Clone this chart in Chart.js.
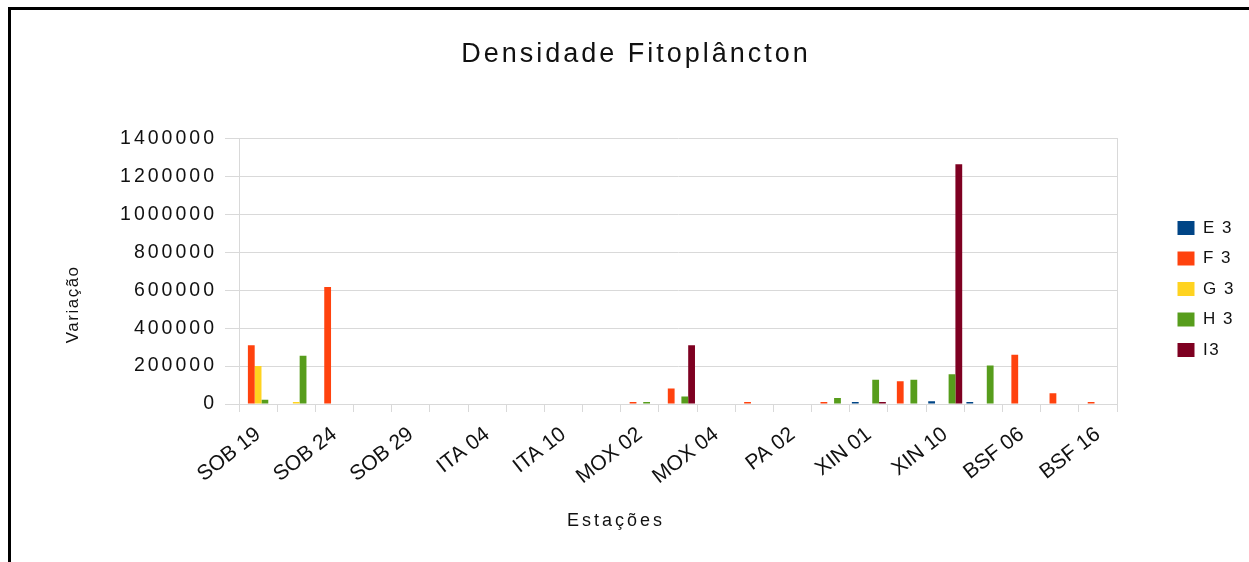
<!DOCTYPE html>
<html>
<head>
<meta charset="utf-8">
<script src="https://cdn.jsdelivr.net/npm/chart.js@4"></script>
<style>
  html, body { margin: 0; padding: 0; background: #fff; overflow: hidden; }
  #frame { position: absolute; left: 8px; top: 7px; right: 0; bottom: -10px;
           border-top: 3px solid #000; border-left: 3px solid #000; }
  #wrap { position: absolute; left: 0; top: 0; width: 1249px; height: 562px; }
</style>
</head>
<body>
<div id="frame"></div>
<div id="wrap"><canvas id="chart"></canvas></div>
<script>
// estações (só as pares aparecem no eixo)
const stations = ['SOB 19', 'SOB 20', 'SOB 24', 'SOB 27', 'SOB 29', 'ITA 01', 'ITA 04', 'ITA 07',
  'ITA 10', 'MOX 01', 'MOX 02', 'MOX 03', 'MOX 04', 'PA 01', 'PA 02', 'PA 03',
  'XIN 01', 'XIN 05', 'XIN 10', 'BSF 01', 'BSF 06', 'BSF 11', 'BSF 16'];

const e3 = [0, 0, 0, 0, 0, 0, 0, 0, 0, 0, 0, 0, 0, 0, 0, 0, 10000, 0, 15000, 10000, 0, 0, 0];
const f3 = [310000, 0, 618000, 0, 0, 0, 0, 0, 0, 0, 10000, 82000, 0, 10000, 0, 10000, 0, 120000, 0, 0, 260000, 57000, 10000];
const g3 = [200000, 10000, 0, 0, 0, 0, 0, 0, 0, 0, 0, 0, 0, 0, 0, 0, 0, 0, 0, 0, 0, 0, 0];
const h3 = [22000, 255000, 0, 0, 0, 0, 0, 0, 0, 0, 10000, 40000, 0, 0, 0, 32000, 128000, 128000, 157000, 203000, 0, 0, 0];
const i3 = [0, 0, 0, 0, 0, 0, 0, 0, 0, 0, 0, 310000, 0, 0, 0, 0, 10000, 0, 1265000, 0, 0, 0, 0];

const yMax = 1400000;
const yStep = 200000;

const gridColor = '#d9d9d9';
const font = 'Liberation Sans';

// envolve um método de desenho com deslocamento / espaçamento próprio
function shifted(obj, name, dx, dy, spacing) {
  if (obj['_fix_' + name]) return;
  const orig = obj[name];
  obj[name] = function (...args) {
    const c = this.ctx;
    c.save();
    if (spacing) c.letterSpacing = spacing;
    c.translate(dx, dy);
    orig.apply(this, args);
    c.restore();
  };
  obj['_fix_' + name] = true;
}

// pequenos ajustes: espaçamento de letras, largura da legenda, posição dos títulos
const tweaks = {
  id: 'tweaks',
  beforeUpdate(chart) {
    chart.ctx.letterSpacing = '3px';
    const lg = chart.legend;
    if (lg && !lg._fixed) {
      const fit = lg.fit;
      lg.fit = function () { fit.call(this); this.width = 75; };
      lg._fixed = true;
    }
  },
  afterLayout(chart) {
    shifted(chart.scales.x, 'drawLabels', 0, 0, '0px');
    shifted(chart.scales.x, 'drawTitle', -62, 0);
    shifted(chart.scales.y, 'drawTitle', 0, 33, '1.5px');
    if (chart.titleBlock) shifted(chart.titleBlock, 'draw', -15, 0);
    if (chart.legend) shifted(chart.legend, 'draw', 0, 0, '1.5px');
  },
  beforeDraw(chart) { chart.ctx.letterSpacing = '3px'; }
};

new Chart(document.getElementById('chart'), {
  type: 'bar',
  plugins: [tweaks],
  data: {
    labels: stations,
    datasets: [
      { label: 'E 3', data: e3, backgroundColor: '#004586' },
      { label: 'F 3', data: f3, backgroundColor: '#ff420e' },
      { label: 'G 3', data: g3, backgroundColor: '#ffd320' },
      { label: 'H 3', data: h3, backgroundColor: '#579d1c' },
      { label: 'I3', data: i3, backgroundColor: '#7e0021' }
    ]
  },
  options: {
    responsive: true,
    maintainAspectRatio: false,
    animation: false,
    datasets: { bar: { barPercentage: 1.0, categoryPercentage: 0.89 } },
    layout: { padding: { left: 63, right: 10, top: 20, bottom: 30 } },
    plugins: {
      title: {
        display: true,
        text: 'Densidade Fitoplâncton',
        color: '#111',
        font: { family: font, size: 27, weight: 'normal' },
        padding: { top: 18.8, bottom: 67.5 }
      },
      legend: {
        position: 'right',
        title: { display: true, text: ' ', font: { size: 10 }, padding: 7 },
        labels: {
          boxWidth: 17,
          boxHeight: 14,
          padding: 13.5,
          color: '#111',
          font: { family: font, size: 17 }
        }
      },
      tooltip: { enabled: false }
    },
    scales: {
      x: {
        offset: true,
        grid: { drawOnChartArea: false, tickLength: 8, color: gridColor },
        border: { color: gridColor },
        ticks: {
          autoSkip: false,
          maxRotation: 38,
          minRotation: 38,
          padding: 10,
          color: '#111',
          font: { family: font, size: 21 },
          callback: (v, i) => (i % 2 === 0 ? stations[i] : '')
        },
        title: {
          display: true,
          text: 'Estações',
          color: '#111',
          font: { family: font, size: 18 },
          padding: 0
        },
        afterFit: s => { s.height = 128; }
      },
      y: {
        min: 0,
        max: yMax,
        grid: { color: gridColor, tickLength: 14 },
        border: { color: gridColor },
        ticks: {
          stepSize: yStep,
          padding: 8,
          color: '#111',
          font: { family: font, size: 19.5 },
          callback: v => String(v)
        },
        title: {
          display: true,
          text: 'Variação',
          color: '#111',
          font: { family: font, size: 17 },
          padding: 0
        },
        afterFit: s => { s.width = 176; }
      },
      y2: {
        position: 'right',
        grid: { display: false },
        border: { color: gridColor },
        ticks: { display: false },
        afterFit: s => { s.width = 47; }
      }
    }
  }
});
</script>
</body>
</html>
